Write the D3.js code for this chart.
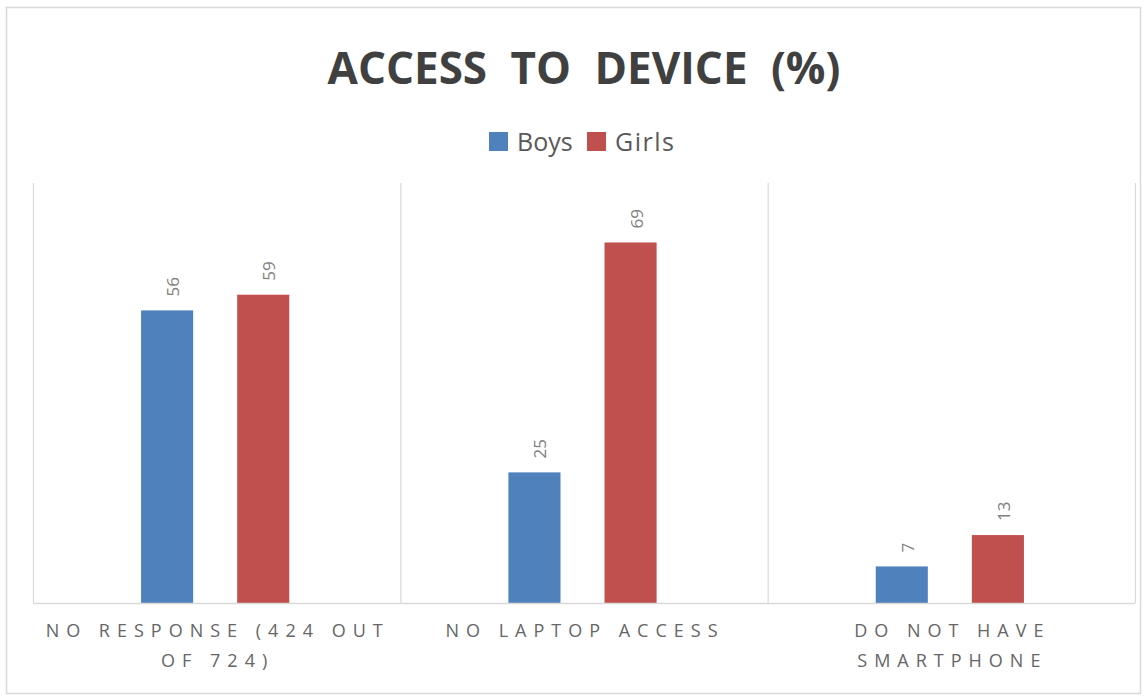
<!DOCTYPE html>
<html>
<head>
<meta charset="utf-8">
<script src="https://cdn.jsdelivr.net/npm/d3@7"></script>
<style>
  body { margin: 0; background: #fff; }
  text { font-family: "Open Sans", "Liberation Sans", sans-serif; }
</style>
</head>
<body>
<div id="chart"></div>
<script>
const categories = ["NO RESPONSE (424 OUT|OF 724)", "NO LAPTOP ACCESS", "DO NOT HAVE|SMARTPHONE"];
const seriesNames = ["Boys", "Girls"];
const boys = [56, 25, 7];
const girls = [59, 69, 13];
const colors = {Boys: "#4f81bd", Girls: "#c0504d"};

const W = 1145, H = 696;
const margin = {top: 185, left: 33};
const plotRight = 1135;

const svg = d3.select("#chart").append("svg")
  .attr("width", W).attr("height", H);

// outer frame
svg.append("rect")
  .attr("x", 6.5).attr("y", 7.5)
  .attr("width", 1134).attr("height", 686)
  .attr("fill", "#fff").attr("stroke", "#d9d9d9").attr("stroke-width", 1.5);

const x = d3.scaleBand().domain(categories).range([margin.left, plotRight]);
const xs = d3.scaleBand().domain(seriesNames).range([-1.5, x.bandwidth() - 1.5])
  .paddingInner(0.458).paddingOuter(1.14);
const y = d3.scaleLinear().domain([0, 80]).range([603, margin.top]);

// category dividers and plot edges
svg.append("g").selectAll("line")
  .data(categories.map(c => x(c)).concat([plotRight]))
  .enter().append("line")
  .attr("x1", d => d + 0.5).attr("x2", d => d + 0.5)
  .attr("y1", y(80) - 2).attr("y2", y(0))
  .attr("stroke", "#d9d9d9").attr("stroke-width", 1.2);

const data = [];
categories.forEach((c, i) => {
  data.push({cat: c, s: "Boys", v: boys[i]});
  data.push({cat: c, s: "Girls", v: girls[i]});
});

svg.append("g").selectAll("rect")
  .data(data)
  .enter().append("rect")
  .attr("x", d => x(d.cat) + xs(d.s))
  .attr("width", xs.bandwidth())
  .attr("y", d => y(d.v))
  .attr("height", d => y(0) - y(d.v))
  .attr("fill", d => colors[d.s]);

// value labels, rotated
svg.append("g").selectAll("text")
  .data(data)
  .enter().append("text")
  .attr("transform", d => "translate(" + (x(d.cat) + xs(d.s) + xs.bandwidth() / 2 + 12) + "," + (y(d.v) - 14) + ") rotate(-90)")
  .attr("font-size", 17)
  .attr("fill", "#808080")
  .text(d => d.v);

// baseline
svg.append("line")
  .attr("x1", margin.left).attr("x2", plotRight)
  .attr("y1", y(0) + 0.5).attr("y2", y(0) + 0.5)
  .attr("stroke", "#d9d9d9").attr("stroke-width", 1.5);

// category labels
const catG = svg.append("g").selectAll("text")
  .data(categories)
  .enter().append("text")
  .attr("y", 637)
  .attr("text-anchor", "middle")
  .attr("font-size", 18)
  .attr("letter-spacing", 7)
  .attr("fill", "#666666");
catG.each(function(d) {
  const lines = d.split("|");
  d3.select(this).selectAll("tspan")
    .data(lines)
    .enter().append("tspan")
    .attr("x", x(d) + x.bandwidth() / 2 + 1)
    .attr("dy", (l, i) => i === 0 ? 0 : 30)
    .text(l => l);
});

// title
svg.append("text")
  .attr("x", 584).attr("y", 84)
  .attr("text-anchor", "middle")
  .attr("font-size", 44)
  .attr("font-weight", "bold")
  .attr("word-spacing", 12)
  .attr("fill", "#404040")
  .text("ACCESS TO DEVICE (%)");

// legend
const legend = svg.append("g");
const legendX = [489, 587];
seriesNames.forEach((s, i) => {
  legend.append("rect")
    .attr("x", legendX[i]).attr("y", 132)
    .attr("width", 19).attr("height", 19)
    .attr("fill", colors[s]);
  legend.append("text")
    .attr("x", legendX[i] + 28).attr("y", 151)
    .attr("font-size", 25)
    .attr("letter-spacing", i === 1 ? 1.5 : 0)
    .attr("fill", "#595959")
    .text(s);
});
</script>
</body>
</html>
